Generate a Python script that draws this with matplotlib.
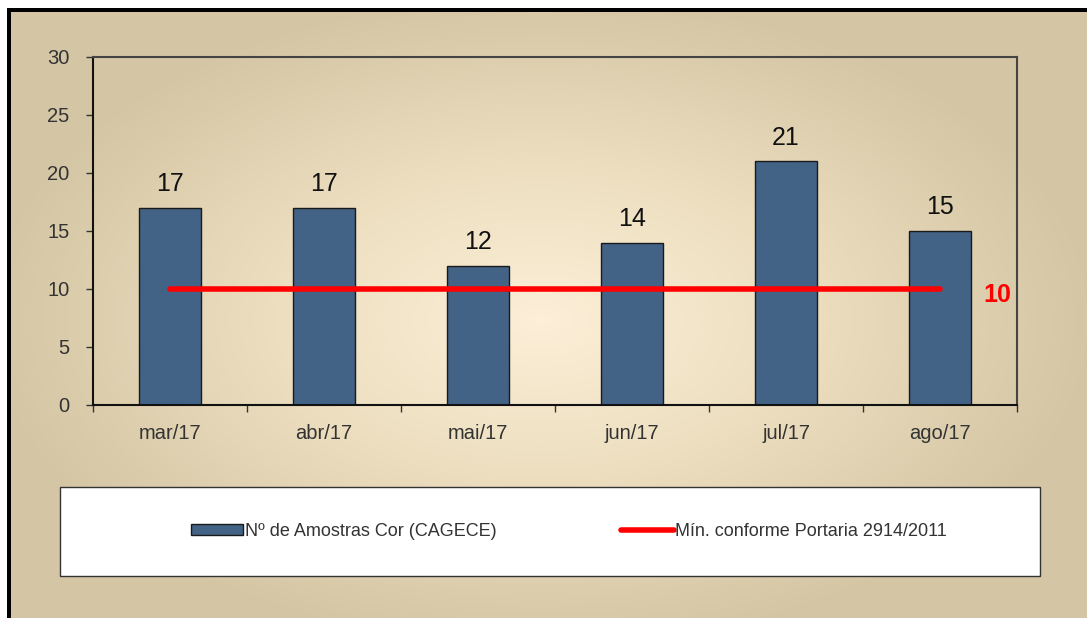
import numpy as np
import matplotlib
matplotlib.use('Agg')
import matplotlib.pyplot as plt
from matplotlib.colors import LinearSegmentedColormap
from matplotlib.patches import Rectangle
from matplotlib.lines import Line2D

plt.rcParams['font.family'] = ['Liberation Sans', 'DejaVu Sans']

# dados
meses = ['mar/17', 'abr/17', 'mai/17', 'jun/17', 'jul/17', 'ago/17']
amostras = [17, 17, 12, 14, 21, 15]
minimo = [10, 10, 10, 10, 10, 10]
rotulo_min = '10'

W, H = 1087, 618
fig = plt.figure(figsize=(W / 100, H / 100), dpi=100)
fig.patch.set_facecolor('white')

# fundo com gradiente radial (coordenadas em pixels)
bg = fig.add_axes([11 / W, 0, 1 - 11 / W, 1 - 12 / H])
bg.set_axis_off()
yy, xx = np.mgrid[12:H, 11:W]
cx, cy = 540, 320
r = np.sqrt(((xx - cx) / 560) ** 2 + ((yy - cy) / 330) ** 2)
r = np.clip(r, 0, 1)
cmap = LinearSegmentedColormap.from_list(
    'bg', [(0, '#fdefd8'), (0.45, '#eddfc0'), (1, '#d4c5a4')])
bg.imshow(r, cmap=cmap, aspect='auto', extent=[0, 1, 0, 1], vmin=0, vmax=1,
          origin='upper')
bg.set_xlim(0, 1)
bg.set_ylim(0, 1)

# moldura preta (topo e esquerda)
fig.add_artist(Rectangle((7 / W, 0), 4 / W, 1 - 8 / H, transform=fig.transFigure,
                         facecolor='black', edgecolor='none'))
fig.add_artist(Rectangle((7 / W, 1 - 12 / H), 1 - 7 / W, 4 / H, transform=fig.transFigure,
                         facecolor='black', edgecolor='none'))

ax = fig.add_axes([93 / W, 1 - 405 / H, (1017 - 93) / W, (405 - 57) / H])
ax.patch.set_alpha(0)
x = np.arange(len(meses))
ax.bar(x, amostras, width=0.4, color='#426286', edgecolor='#1a1a1a', linewidth=1, zorder=2)
ax.plot(x, minimo, color='#ff0000', linewidth=4, solid_capstyle='round', zorder=3)

for xi, v in zip(x, amostras):
    ax.text(xi, v + 1.0, str(v), ha='center', va='bottom', fontsize=18, color='#111111')
ax.text(x[-1] + 0.37, minimo[-1] - 0.5, rotulo_min, ha='center', va='center', fontsize=18,
        fontweight='bold', color='#ff0000')

ax.set_xlim(-0.5, len(meses) - 0.5)
ax.set_ylim(0, 30)
ax.set_yticks(range(0, 31, 5))
ax.set_xticks(x)
ax.set_xticklabels(meses)
ax.set_xticks(np.arange(-0.5, len(meses), 1), minor=True)
ax.tick_params(axis='x', which='major', length=0, pad=14, labelsize=14.5, labelcolor='#333333')
ax.tick_params(axis='x', which='minor', length=5, width=1, color='#333333')
ax.tick_params(axis='y', length=5, width=1, color='#333333', labelsize=14.5, labelcolor='#333333', pad=12)
for s in ax.spines.values():
    s.set_color('#444444')
    s.set_linewidth(1.5)
ax.spines['left'].set_color('#111111')
ax.spines['bottom'].set_color('#111111')

# caixa da legenda
fig.add_artist(Rectangle((60 / W, 1 - 576 / H), (1040 - 60) / W, (576 - 487) / H,
                         transform=fig.transFigure, facecolor='white',
                         edgecolor='#333333', linewidth=1))

handles = [Rectangle((0, 0), 1, 1, facecolor='#426286', edgecolor='#1a1a1a', linewidth=1),
           Line2D([0], [0], color='#ff0000', linewidth=4, solid_capstyle='round')]
labels = ['Nº de Amostras Cor (CAGECE)', 'Mín. conforme Portaria 2914/2011']
leg = fig.legend(handles, labels, loc='center', ncol=2,
                 bbox_to_anchor=(569 / W, 1 - 531 / H),
                 fontsize=13, frameon=False,
                 handlelength=2.9, handleheight=0.55, handletextpad=0.1, columnspacing=6.9,
                 labelcolor='#333333')

fig.savefig('out.png', dpi=100)
